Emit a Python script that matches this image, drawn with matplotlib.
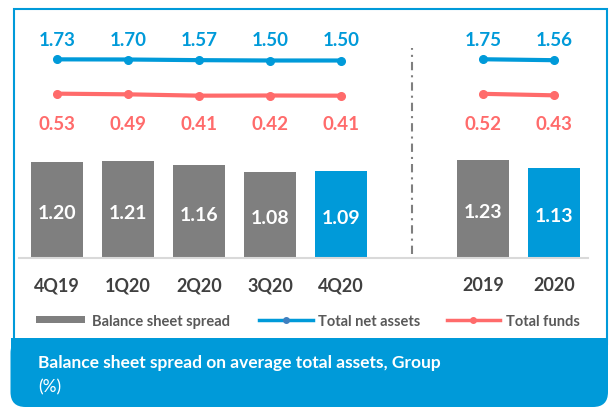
import matplotlib
matplotlib.use("Agg")
import matplotlib.pyplot as plt
import matplotlib.transforms as mtransforms
from matplotlib.patches import Rectangle, FancyBboxPatch
from matplotlib.lines import Line2D

plt.rcParams['font.family'] = ['Lato', 'DejaVu Sans']

# ---- data ----
categories = ['4Q19', '1Q20', '2Q20', '3Q20', '4Q20', '2019', '2020']
spread = [1.20, 1.21, 1.16, 1.08, 1.09, 1.23, 1.13]
net_assets = [1.73, 1.70, 1.57, 1.50, 1.50, 1.75, 1.56]
total_funds = [0.53, 0.49, 0.41, 0.42, 0.41, 0.52, 0.43]
highlight = ['4Q20', '2020']
title = 'Balance sheet spread on average total assets, Group'
unit = '(%)'

BLUE = '#009AD9'
GRAY = '#7F7F7F'
RED = '#FF6B6B'
DARK = '#404040'
LEG = '#595959'

W, H = 609, 410
fig = plt.figure(figsize=(W / 100, H / 100), dpi=100)
px = mtransforms.Affine2D().scale(1 / W, -1 / H).translate(0, 1) + fig.transFigure

# slots: 5 quarters, a gap, 2 years
xpos = [0, 1, 2, 3, 4, 6, 7]
ax_l, ax_r, ax_t, ax_b = 19, 588, 9, 259
ax = fig.add_axes([ax_l / W, (H - ax_b) / H, (ax_r - ax_l) / W, (ax_b - ax_t) / H])
ax.set_xlim((ax_l - 57) / 71, (ax_r - 57) / 71)
ax.set_ylim(0, 3.125)

colors = [BLUE if c in highlight else GRAY for c in categories]
bars = ax.bar(xpos, spread, width=0.72, color=colors, zorder=2)
for b, v in zip(bars, spread):
    ax.annotate(f'{v:.2f}', (b.get_x() + b.get_width() / 2, v / 2),
                xytext=(0, -3), textcoords='offset pixels',
                ha='center', va='center', color='white',
                fontsize=14, fontweight='bold', zorder=3)

for s in ['top', 'right', 'left']:
    ax.spines[s].set_visible(False)
ax.spines['bottom'].set_color('#D9D9D9')
ax.spines['bottom'].set_linewidth(1.5)
ax.set_yticks([])
ax.set_xticks(xpos, categories)
ax.tick_params(axis='x', length=0, pad=13, labelsize=13, labelcolor=DARK)
for lab in ax.get_xticklabels():
    lab.set_fontweight('bold')

# separator
ax.axvline(5, ymin=(ax_b - 255) / 250, ymax=(ax_b - 49) / 250, color=GRAY,
           lw=1.5, linestyle=(0, (4, 2.4, 1, 2.4)), zorder=1)

# lines on their own scales
axb = ax.twinx()
axb.set_ylim(-38.0, 12.0)
axr = ax.twinx()
axr.set_ylim(-9.33, 5.67)
for a in (axb, axr):
    a.set_axis_off()

q = slice(0, 5)
y_ = slice(5, 7)
for a, vals, col in ((axb, net_assets, BLUE), (axr, total_funds, RED)):
    a.plot(xpos[q], vals[q], color=col, lw=3, marker='o', ms=5.5, zorder=3)
    a.plot(xpos[y_], vals[y_], color=col, lw=3, marker='o', ms=5.5, zorder=3)

blend = mtransforms.blended_transform_factory(ax.transData, ax.transAxes)
for x, v in zip(xpos, net_assets):
    ax.text(x, (ax_b - 40) / 250, f'{v:.2f}', transform=blend, ha='center',
            va='center', color=BLUE, fontsize=13.5, fontweight='bold')
for x, v in zip(xpos, total_funds):
    ax.text(x, (ax_b - 125) / 250, f'{v:.2f}', transform=blend, ha='center',
            va='center', color=RED, fontsize=13.5, fontweight='bold')

# frame
fig.add_artist(Rectangle((13.5, 9.5), 593.5, 335, transform=px, fill=False,
                         edgecolor=BLUE, lw=1.5))
fig.add_artist(FancyBboxPatch((10.5, 339), 597.5, 69, transform=px,
                              boxstyle='round,pad=0,rounding_size=15',
                              facecolor=BLUE, edgecolor='none'))
fig.add_artist(Rectangle((10.5, 339), 597.5, 25, transform=px,
                         facecolor=BLUE, edgecolor='none'))
fig.text(38 / W, 1 - 363 / H, title, color='white', fontsize=12.5,
         fontweight='bold', va='center', ha='left')
fig.text(38 / W, 1 - 387 / H, unit, color='white', fontsize=12.5,
         va='center', ha='left')

# legend
fig.add_artist(Rectangle((36, 317), 49, 7, transform=px, facecolor=GRAY,
                         edgecolor='none'))
fig.text(92 / W, 1 - 322 / H, 'Balance sheet spread', color=LEG, fontsize=10.5,
         fontweight='bold', va='center')
fig.add_artist(Line2D([259, 313], [320.5, 320.5], transform=px, color=BLUE,
                      lw=2.5))
fig.add_artist(Line2D([286], [320.5], transform=px, color=BLUE, marker='o',
                      ms=4, mfc='#3F7FBF', mec='#3F7FBF'))
fig.text(318 / W, 1 - 322 / H, 'Total net assets', color=LEG, fontsize=10.5,
         fontweight='bold', va='center')
fig.add_artist(Line2D([447, 500], [320.5, 320.5], transform=px, color=RED,
                      lw=2.5))
fig.add_artist(Line2D([473], [320.5], transform=px, color=RED, marker='o',
                      ms=4))
fig.text(506 / W, 1 - 322 / H, 'Total funds', color=LEG, fontsize=10.5,
         fontweight='bold', va='center')

fig.savefig('out.png', dpi=100)
